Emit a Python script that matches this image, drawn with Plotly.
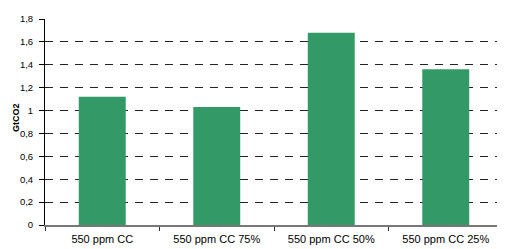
import plotly.graph_objects as go

categories = ["550 ppm CC", "550 ppm CC 75%", "550 ppm CC 50%", "550 ppm CC 25%"]
values = [1.12, 1.03, 1.68, 1.36]
y_tickvals = [0, 0.2, 0.4, 0.6, 0.8, 1.0, 1.2, 1.4, 1.6, 1.8]
y_ticktext = ["0", "0,2", "0,4", "0,6", "0,8", "1", "1,2", "1,4", "1,6", "1,8"]
y_title = "GtCO2"

fig = go.Figure(
    go.Bar(x=categories, y=values, marker=dict(color="#339966", line=dict(width=0)))
)

# page body has an 8px default margin, so the figure is drawn 8px smaller
fig.update_layout(
    width=497, height=241,
    margin=dict(l=37, r=2, t=11, b=24),
    paper_bgcolor="white", plot_bgcolor="white",
    bargap=0.59,
    showlegend=False,
    font=dict(family="Liberation Sans, Arial, sans-serif", color="black"),
    annotations=[dict(
        text="<b>" + y_title + "</b>", textangle=-90,
        xref="paper", yref="paper", x=0, y=0.5, xshift=-29, yshift=4,
        xanchor="center", yanchor="middle", showarrow=False,
        font=dict(size=9, color="black"),
    )],
)
fig.update_xaxes(
    type="category",
    tickson="boundaries",
    ticks="outside", ticklen=4, tickcolor="#333",
    ticklabelstandoff=3,
    showline=True, linecolor="#777", linewidth=2,
    showgrid=False,
    tickfont=dict(size=11),
    automargin=False,
)
fig.update_yaxes(
    range=[0, 1.8],
    tickvals=y_tickvals, ticktext=y_ticktext,
    ticks="outside", ticklen=5, tickcolor="black",
    ticklabelstandoff=4,
    showline=True, linecolor="black", linewidth=1,
    showgrid=True, gridcolor="#222", gridwidth=1, griddash="8px,7px",
    zeroline=False,
    tickfont=dict(size=9.5),
    automargin=False,
)

fig.write_html("out.html")
